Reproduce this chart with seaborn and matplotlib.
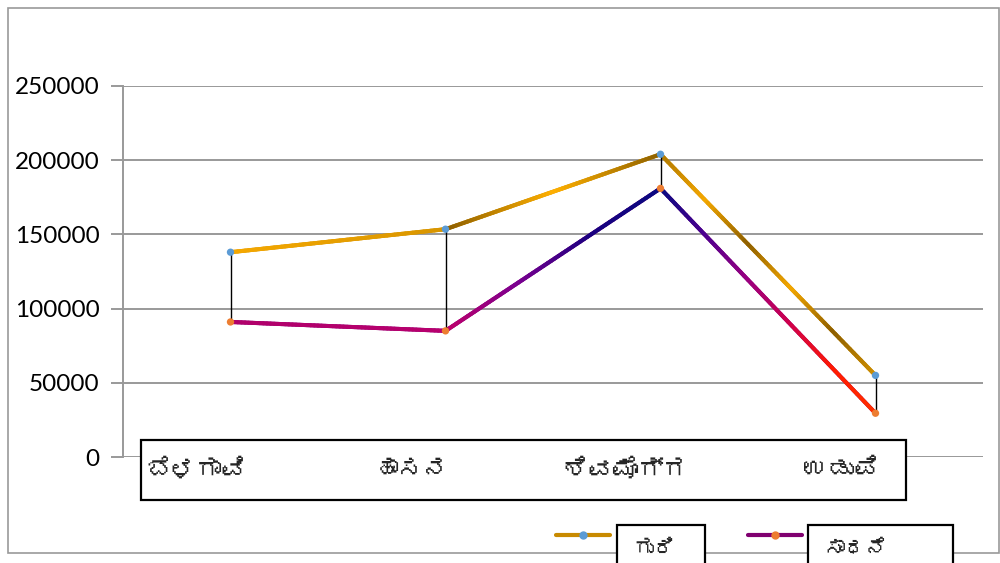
import numpy as np
import pandas as pd
import seaborn as sns
import matplotlib
matplotlib.use("Agg")
import matplotlib.pyplot as plt
from matplotlib import font_manager
from matplotlib.ft2font import FT2Font
from matplotlib.collections import LineCollection
from matplotlib.colors import LinearSegmentedColormap
from matplotlib.patches import Rectangle
from matplotlib.lines import Line2D

districts = ["ಬೆಳಗಾವಿ", "ಹಾಸನ", "ಶಿವಮೊಗ್ಗ", "ಉಡುಪಿ"]
target = [138000, 153500, 204000, 55000]      # ಗುರಿ
achieved = [91000, 85000, 181000, 29500]      # ಸಾಧನೆ
series_names = ["ಗುರಿ", "ಸಾಧನೆ"]
yticks = [0, 50000, 100000, 150000, 200000, 250000]

# colour stops along each segment of the two lines
target_grad = [
    ["#F5A800", "#D89500"],
    ["#8C5E00", "#FFB000", "#8C6000"],
    ["#B07800", "#F5A800", "#8C5E00", "#F5A800", "#8C5E00", "#D09000"],
]
achieved_grad = [
    ["#B0006A", "#B8006E"],
    ["#C0006A", "#7A0090", "#1A0080", "#0A0A80"],
    ["#0A0A80", "#4B0090", "#9A0080", "#D0004A", "#FF1A00", "#FF3000"],
]


def kannada_family():
    for f in font_manager.fontManager.ttflist:
        try:
            if 0x0C95 in FT2Font(f.fname).get_charmap():
                return f.name
        except Exception:
            pass
    return None


def gradient_line(ax, xs, ys, grads, lw):
    for i, stops in enumerate(grads):
        cmap = LinearSegmentedColormap.from_list(f"g{i}", stops)
        t = np.linspace(0, 1, 60)
        px = xs[i] + (xs[i + 1] - xs[i]) * t
        py = ys[i] + (ys[i + 1] - ys[i]) * t
        pts = np.column_stack([px, py]).reshape(-1, 1, 2)
        segs = np.concatenate([pts[:-1], pts[1:]], axis=1)
        lc = LineCollection(segs, colors=cmap(t[:-1]), linewidths=lw,
                            capstyle="round", zorder=3)
        ax.add_collection(lc)


sns.set_style("white")
kn = kannada_family()
plt.rcParams["font.family"] = ["Lato", "DejaVu Sans"]
label_family = [kn, "Lato", "DejaVu Sans"] if kn else ["Lato", "DejaVu Sans"]

df = pd.DataFrame({"x": np.arange(len(districts)), "t": target, "a": achieved})

fig = plt.figure(figsize=(10, 5.63), dpi=100)
ax = fig.add_axes([0.123, 1 - 457 / 563, 0.86, (457 - 86) / 563])

# base lines through seaborn, gradients drawn on top
sns.lineplot(data=df, x="x", y="t", color="#D89500", lw=2.9, ax=ax, zorder=2)
sns.lineplot(data=df, x="x", y="a", color="#800080", lw=2.9, ax=ax, zorder=2)
gradient_line(ax, df["x"].values, df["t"].values, target_grad, 2.9)
gradient_line(ax, df["x"].values, df["a"].values, achieved_grad, 2.9)

# high-low lines
ax.vlines(df["x"], df["a"], df["t"], color="black", lw=1.0, zorder=4)

sns.scatterplot(data=df, x="x", y="t", color="#5B9BD5", s=28, edgecolor="none", ax=ax, zorder=5)
sns.scatterplot(data=df, x="x", y="a", color="#ED7D31", s=28, edgecolor="none", ax=ax, zorder=5)

ax.set_xlim(-0.5, len(districts) - 0.5)
ax.set_ylim(0, 250000)
ax.set_yticks(yticks)
ax.set_yticklabels([str(v) for v in yticks], fontsize=17.5, color="black")
ax.set_xticks([])
ax.set_xlabel("")
ax.set_ylabel("")
ax.yaxis.grid(True, color="#999999", lw=1.4)
ax.set_axisbelow(True)
ax.tick_params(axis="y", length=9, width=1.4, color="#999999", pad=8, left=True)
for side in ["top", "right", "bottom"]:
    ax.spines[side].set_visible(False)
ax.spines["left"].set_color("#999999")
ax.spines["left"].set_linewidth(1.4)

# category labels in a boxed strip over the baseline
ax.add_patch(Rectangle((141 / 1000, 1 - 500 / 563), 765 / 1000, 60 / 563,
                       transform=fig.transFigure, facecolor="white",
                       edgecolor="black", lw=1.6, zorder=10, clip_on=False))
for i, name in enumerate(districts):
    ax.text(i - 0.16, -12 / 371, name, transform=ax.get_xaxis_transform(),
            fontsize=18, family=label_family, ha="center", va="center",
            zorder=11, clip_on=False)

# outer chart frame
fig.patches.append(Rectangle((8 / 1000, 1 - 553 / 563), 991 / 1000, 545 / 563,
                             transform=fig.transFigure, facecolor="none",
                             edgecolor="#999999", lw=1.2, zorder=1))

# legend entries
legend_items = [
    (series_names[0], "#C88A00", "#5B9BD5", 556, 617, 705),
    (series_names[1], "#800070", "#ED7D31", 748, 808, 953),
]
for name, lc, mc, x0, bx0, bx1 in legend_items:
    y = 1 - 535 / 563
    fig.add_artist(Line2D([x0 / 1000, (x0 + 54) / 1000], [y, y], color=lc, lw=3,
                          transform=fig.transFigure))
    fig.add_artist(Line2D([(x0 + 27) / 1000], [y], marker="o", ms=5, color=mc,
                          transform=fig.transFigure))
    fig.patches.append(Rectangle((bx0 / 1000, -0.02), (bx1 - bx0) / 1000,
                                 0.02 + 38 / 563, transform=fig.transFigure,
                                 facecolor="white", edgecolor="black", lw=1.6,
                                 zorder=10))
    fig.text((bx0 + 16) / 1000, 1 - 549 / 563, name, fontsize=15,
             fontweight="bold", family=label_family, ha="left", va="center",
             zorder=11)

fig.savefig("out.png", dpi=100)
